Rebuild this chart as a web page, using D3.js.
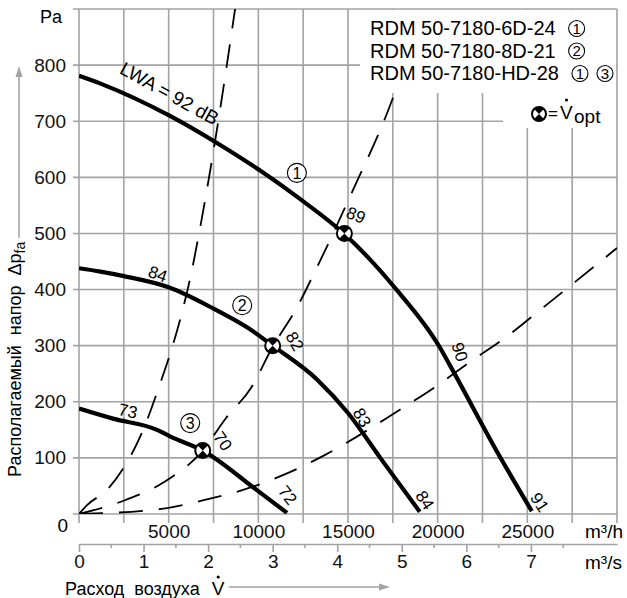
<!DOCTYPE html>
<html>
<head>
<meta charset="utf-8">
<script src="https://cdn.jsdelivr.net/npm/d3@7"></script>
<style>
    body { margin: 0; background: #fff; }
    svg { display: block; font-family: 'Liberation Sans', Arial, sans-serif; }
</style>
</head>
<body>
<div class="chart"></div>
<script>
// fan curves, [m3/h, Pa]
const curve6D = [[0, 781], [1200, 767], [5100, 709], [7600, 663], [10100, 612], [12300, 562], [14800, 499],
    [17700, 400], [20100, 298], [20700, 264], [23400, 106], [25250, 5]];
const curve8D = [[0, 438], [1200, 432], [2500, 424], [5000, 404], [7500, 366], [9500, 330], [10800, 300],
    [13300, 239], [15000, 180], [16800, 100], [19000, 4]];
const curveHD = [[0, 188], [1900, 170], [4350, 150], [5100, 138], [6900, 113], [9900, 43], [11600, 2]];

// system lines (dashed)
const sysSteep = [[0, 0], [450, 16], [1560, 43], [2400, 78], [3500, 144], [4400, 221], [5750, 360],
    [6200, 420], [6700, 501], [7580, 663], [8750, 910]];
const sysOpt = [[0, 0], [2600, 25], [4750, 57], [6900, 113], [8200, 171], [9600, 225], [10800, 298],
    [12100, 365], [13200, 435], [14200, 502], [15200, 572], [17200, 716], [18600, 840]];
const sysFlat = [[0, 0], [4600, 9], [7000, 25], [9150, 43], [11500, 71], [13700, 105], [17850, 185],
    [19800, 225], [21800, 271], [23800, 315], [25650, 362], [30000, 474]];

const optPoints = [[14800, 500], [10800, 300], [6900, 113]];

// circled curve numbers [tag, m3/h, Pa]
const curveTags = [['1', 12150, 608], ['2', 9100, 372], ['3', 6200, 162]];

// sound level labels [text, m3/h, Pa, angle]
const levelLabels = [
    ['LWA = 92 dB', 5050, 750, 29],
    ['84', 4400, 428, 20],
    ['73', 2730, 184, 12],
    ['89', 15450, 533, 22],
    ['82', 12050, 308, 60],
    ['70', 8030, 130, 55],
    ['90', 21250, 289, 72],
    ['83', 15800, 172, 60],
    ['72', 11650, 34, 52],
    ['84', 19300, 25, 57],
    ['91', 25700, 21, 57]
];

const legendNames = ['RDM 50-7180-6D-24', 'RDM 50-7180-8D-21', 'RDM 50-7180-HD-28'];
const legendTags = [['1'], ['2'], ['1', '3']];

const yTicks = [100, 200, 300, 400, 500, 600, 700, 800];
const flowTicksH = [5000, 10000, 15000, 20000, 25000];
const flowTicksS = [0, 1, 2, 3, 4, 5, 6, 7];

(function () {
    'use strict';

    const width = 627;
    const height = 598;
    const gridColor = '#a3a3a3';

    const svg = d3.select('.chart').append('svg')
        .attr('width', width).attr('height', height);

    const x = d3.scaleLinear().domain([0, 30000]).range([79, 617]);
    const xs = d3.scaleLinear().domain([0, 30000 / 3600]).range([79, 617]);
    const y = d3.scaleLinear().domain([0, 900]).range([514, 9]);

    // grid
    const grid = svg.append('g').attr('stroke', gridColor).attr('stroke-width', 1.6);
    grid.selectAll('.vline').data(d3.range(0, 30001, 2500))
        .enter().append('line')
        .attr('x1', d => x(d)).attr('x2', d => x(d))
        .attr('y1', y(0) + 9).attr('y2', y(900));
    grid.selectAll('.hline').data(d3.range(0, 901, 100))
        .enter().append('line')
        .attr('x1', 73).attr('x2', x(30000))
        .attr('y1', d => y(d)).attr('y2', d => y(d));

    svg.append('clipPath').attr('id', 'plot')
        .append('rect')
        .attr('x', x(0)).attr('y', y(900))
        .attr('width', x(30000) - x(0)).attr('height', y(0) - y(900));

    const plot = svg.append('g').attr('clip-path', 'url(#plot)');

    const line = d3.line()
        .x(d => x(d[0])).y(d => y(d[1]))
        .curve(d3.curveMonotoneX);

    [sysSteep, sysOpt, sysFlat].forEach(function (s) {
        plot.append('path').datum(s)
            .attr('d', line)
            .attr('fill', 'none')
            .attr('stroke', '#000')
            .attr('stroke-width', 1.8)
            .attr('stroke-dasharray', '24,16');
    });

    [curve6D, curve8D, curveHD].forEach(function (c) {
        plot.append('path').datum(c)
            .attr('d', line)
            .attr('fill', 'none')
            .attr('stroke', '#000')
            .attr('stroke-width', 4.2)
            .attr('stroke-linejoin', 'round');
    });

    // legend area covers the grid
    svg.append('rect').attr('x', 360).attr('y', y(900) + 1)
        .attr('width', x(30000) - 1 - 360).attr('height', 93 - y(900) - 1)
        .attr('fill', '#fff');
    svg.append('rect').attr('x', 503).attr('y', 92)
        .attr('width', x(30000) - 1 - 503).attr('height', 36)
        .attr('fill', '#fff');

    const drawOpt = function (g, r) {
        const a = r * Math.SQRT1_2;
        g.append('circle').attr('r', r).attr('fill', '#fff')
            .attr('stroke', '#000').attr('stroke-width', 2);
        g.append('path')
            .attr('d', 'M0,0L' + (-a) + ',' + (-a) + 'A' + r + ',' + r + ' 0 0 1 ' + a + ',' + (-a) + 'Z' +
                'M0,0L' + a + ',' + a + 'A' + r + ',' + r + ' 0 0 1 ' + (-a) + ',' + a + 'Z')
            .attr('fill', '#000');
    };

    optPoints.forEach(function (p) {
        drawOpt(svg.append('g').attr('transform', 'translate(' + x(p[0]) + ',' + y(p[1]) + ')'), 7.5);
    });

    const drawTag = function (g, t, r, size) {
        g.append('circle').attr('r', r).attr('fill', '#fff')
            .attr('stroke', '#000').attr('stroke-width', 1.1);
        g.append('text').text(t)
            .attr('text-anchor', 'middle').attr('dy', '0.36em')
            .style('font-size', size + 'px');
    };

    curveTags.forEach(function (c) {
        drawTag(svg.append('g').attr('transform', 'translate(' + x(c[1]) + ',' + y(c[2]) + ')'), c[0], 9.5, 16);
    });

    levelLabels.forEach(function (l) {
        svg.append('text').text(l[0])
            .attr('transform', 'translate(' + x(l[1]) + ',' + y(l[2]) + ') rotate(' + l[3] + ')')
            .attr('text-anchor', 'middle').attr('dy', '0.36em')
            .style('font-size', l[0].length > 2 ? '19px' : '17px');
    });

    // legend
    legendNames.forEach(function (name, i) {
        const t = svg.append('text').text(name)
            .attr('x', 370).attr('y', 35 + i * 22.5)
            .style('font-size', '20px');
        const end = 370 + t.node().getComputedTextLength();
        legendTags[i].forEach(function (tag, j) {
            drawTag(svg.append('g').attr('transform', 'translate(' + (end + 21 + j * 25) + ',' + (28.5 + i * 22.5) + ')'),
                tag, 8, 15);
        });
    });
    drawOpt(svg.append('g').attr('transform', 'translate(539,114)'), 7);
    svg.append('text').text('=').attr('x', 548).attr('y', 119).style('font-size', '17px');
    svg.append('text').text('V').attr('x', 560).attr('y', 119).style('font-size', '19px');
    svg.append('circle').attr('cx', 566.5).attr('cy', 100).attr('r', 1.6).attr('fill', '#000');
    svg.append('text').text('opt').attr('x', 574).attr('y', 123).style('font-size', '19px');

    // axes
    const yAxis = svg.append('g').attr('transform', 'translate(' + x(0) + ',0)')
        .call(d3.axisLeft(y).tickValues(yTicks).tickSize(0).tickPadding(13));
    yAxis.select('.domain').remove();
    yAxis.selectAll('text').style('font-size', '19px').style('font-family', null).attr('fill', '#111');

    const xAxis = svg.append('g').attr('transform', 'translate(0,' + y(0) + ')')
        .call(d3.axisBottom(x).tickValues(flowTicksH).tickSize(9).tickPadding(2)
            .tickFormat(d3.format('d')));
    xAxis.select('.domain').remove();
    xAxis.selectAll('line').remove();
    xAxis.selectAll('text').style('font-size', '19px').style('font-family', null).attr('fill', '#111');

    const sAxis = svg.append('g').attr('transform', 'translate(0,544)')
        .call(d3.axisBottom(xs).tickValues(flowTicksS).tickSize(8).tickSizeOuter(0).tickPadding(3)
            .tickFormat(d3.format('d')));
    sAxis.selectAll('.domain, line').attr('stroke', gridColor).attr('stroke-width', 1.6);
    sAxis.selectAll('text').style('font-size', '19px').style('font-family', null).attr('fill', '#111');
    sAxis.selectAll('.minor').data(flowTicksS.map(d => d + 0.5))
        .enter().append('line').attr('class', 'minor')
        .attr('x1', d => xs(d)).attr('x2', d => xs(d))
        .attr('y1', 0).attr('y2', 4)
        .attr('stroke', gridColor).attr('stroke-width', 1.6);

    svg.append('text').text('Pa').attr('x', 62).attr('y', 23)
        .attr('text-anchor', 'end').style('font-size', '18px');
    svg.append('text').text('0').attr('x', 68).attr('y', 532)
        .attr('text-anchor', 'end').style('font-size', '19px');
    svg.append('text').text('m³/h').attr('x', 585).attr('y', 538).style('font-size', '19px');
    svg.append('text').text('m³/s').attr('x', 585).attr('y', 569).style('font-size', '19px');

    // axis titles with arrows
    const yTitle = svg.append('text')
        .attr('transform', 'translate(21,477) rotate(-90)')
        .style('font-size', '18px').style('white-space', 'pre');
    yTitle.append('tspan').text('Располагаемый  напор  Δp');
    yTitle.append('tspan').text('fa').attr('dy', 4).style('font-size', '14px');
    const yLen = yTitle.node().getComputedTextLength();
    svg.append('line').attr('x1', 19).attr('x2', 19)
        .attr('y1', 477 - yLen - 4).attr('y2', 74)
        .attr('stroke', gridColor).attr('stroke-width', 1.6);
    svg.append('path').attr('d', 'M19,66L15.5,77L22.5,77Z').attr('fill', gridColor);

    const xTitle = svg.append('text').text('Расход  воздуха')
        .attr('x', 65).attr('y', 595)
        .style('font-size', '18px').style('white-space', 'pre');
    const vx = 65 + xTitle.node().getComputedTextLength() + 12;
    svg.append('text').text('V').attr('x', vx).attr('y', 595).style('font-size', '19px');
    svg.append('circle').attr('cx', vx + 6.5).attr('cy', 577).attr('r', 1.6).attr('fill', '#000');
    svg.append('line').attr('x1', vx + 17).attr('x2', 382)
        .attr('y1', 587).attr('y2', 587)
        .attr('stroke', gridColor).attr('stroke-width', 1.6);
    svg.append('path').attr('d', 'M390,587L379,583.5L379,590.5Z').attr('fill', gridColor);
})();
</script>
</body>
</html>
